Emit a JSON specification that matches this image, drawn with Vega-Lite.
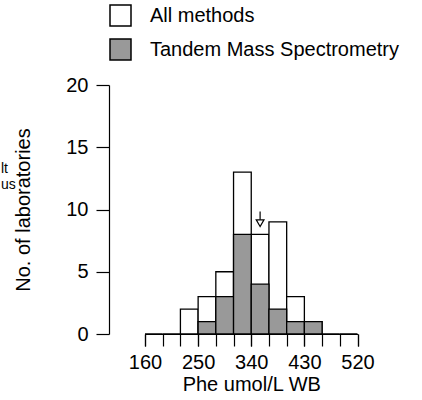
{
  "$schema": "https://vega.github.io/schema/vega-lite/v6.json",
  "width": 212.5,
  "height": 249,
  "autosize": {"type": "none"},
  "padding": {"left": 145, "top": 85, "right": 64.5, "bottom": 66},
  "config": {
    "view": {"stroke": null},
    "font": "Liberation Sans",
    "axis": {"domainColor": "black", "tickColor": "black", "labelColor": "black", "titleColor": "black", "labelFontSize": 20, "titleFontSize": 20, "titleFontWeight": "normal", "grid": false, "domainWidth": 1.2, "tickWidth": 1.2, "labelOverlap": false}
  },
  "datasets": {
    "bars": [
      {"method": "All methods", "lo": 160, "hi": 190, "n": 0},
      {"method": "All methods", "lo": 190, "hi": 220, "n": 0},
      {"method": "All methods", "lo": 220, "hi": 250, "n": 2},
      {"method": "All methods", "lo": 250, "hi": 280, "n": 3},
      {"method": "All methods", "lo": 280, "hi": 310, "n": 5},
      {"method": "All methods", "lo": 310, "hi": 340, "n": 13},
      {"method": "All methods", "lo": 340, "hi": 370, "n": 8},
      {"method": "All methods", "lo": 370, "hi": 400, "n": 9},
      {"method": "All methods", "lo": 400, "hi": 430, "n": 3},
      {"method": "All methods", "lo": 430, "hi": 460, "n": 1},
      {"method": "All methods", "lo": 460, "hi": 490, "n": 0},
      {"method": "All methods", "lo": 490, "hi": 520, "n": 0},
      {"method": "Tandem Mass Spectrometry", "lo": 250, "hi": 280, "n": 1},
      {"method": "Tandem Mass Spectrometry", "lo": 280, "hi": 310, "n": 3},
      {"method": "Tandem Mass Spectrometry", "lo": 310, "hi": 340, "n": 8},
      {"method": "Tandem Mass Spectrometry", "lo": 340, "hi": 370, "n": 4},
      {"method": "Tandem Mass Spectrometry", "lo": 370, "hi": 400, "n": 2},
      {"method": "Tandem Mass Spectrometry", "lo": 400, "hi": 430, "n": 1},
      {"method": "Tandem Mass Spectrometry", "lo": 430, "hi": 460, "n": 1}
    ],
    "arrow": [{"x": 355, "top": 9.84, "bottom": 9.1, "head": 8.9}],
    "frag": [{"label": "lt", "x": -84, "y": 12.95}, {"label": "us", "x": -84, "y": 11.62}]
  },
  "resolve": {"scale": {"x": "independent"}, "axis": {"x": "independent"}},
  "layer": [
    {
      "layer": [
        {
          "data": {"name": "bars"},
          "mark": {"type": "bar", "stroke": "black", "strokeWidth": 1.3},
          "encoding": {
            "x": {"field": "lo", "type": "quantitative", "scale": {"domain": [160, 520], "nice": false, "zero": false},
              "axis": {"orient": "bottom", "values": [160, 250, 340, 430, 520], "tickSize": 12, "labelPadding": 6, "title": "Phe umol/L WB", "titlePadding": 2, "labelFlush": false, "labelOverlap": false}},
            "x2": {"field": "hi"},
            "y": {"field": "n", "type": "quantitative", "stack": null, "scale": {"domain": [0, 20], "nice": false},
              "axis": {"values": [0, 5, 10, 15, 20], "offset": 36, "tickSize": 13, "labelPadding": 8, "title": "No. of laboratories", "titlePadding": 32}},
            "y2": {"datum": 0},
            "fill": {"field": "method", "type": "nominal", "scale": {"domain": ["All methods", "Tandem Mass Spectrometry"], "range": ["white", "#999999"]},
              "legend": {"orient": "none", "legendX": -36, "legendY": -81, "title": null, "symbolType": "square", "symbolSize": 441, "symbolStrokeColor": "black", "symbolStrokeWidth": 1.5, "symbolOpacity": 1, "labelFontSize": 20, "labelColor": "black", "labelOffset": 18, "rowPadding": 7, "padding": 0, "labelLimit": 400}},
            "order": {"field": "method"}
          }
        },
        {
          "data": {"name": "arrow"},
          "mark": {"type": "rule", "color": "black", "strokeWidth": 1.2},
          "encoding": {
            "x": {"field": "x", "type": "quantitative"},
            "y": {"field": "top", "type": "quantitative"},
            "y2": {"field": "bottom"}
          }
        },
        {
          "data": {"name": "arrow"},
          "mark": {"type": "point", "shape": "triangle-down", "filled": true, "fill": "white", "stroke": "black", "strokeWidth": 1.2, "size": 60, "opacity": 1},
          "encoding": {
            "x": {"field": "x", "type": "quantitative"},
            "y": {"field": "head", "type": "quantitative"}
          }
        },
        {
          "data": {"name": "frag"},
          "mark": {"type": "text", "align": "left", "baseline": "alphabetic", "fontSize": 14, "color": "black"},
          "encoding": {
            "x": {"field": "x", "type": "quantitative"},
            "y": {"field": "y", "type": "quantitative"},
            "text": {"field": "label"}
          }
        }
      ]
    },
    {
      "data": {"name": "bars"},
      "mark": {"type": "rule", "opacity": 0},
      "encoding": {
        "x": {"field": "lo", "type": "quantitative", "scale": {"domain": [160, 520], "nice": false, "zero": false},
          "axis": {"orient": "bottom", "values": [160,190,220,250,280,310,340,370,400,430,460,490,520], "tickSize": 12, "labels": false, "title": null, "domain": true}}
      }
    }
  ]
}
